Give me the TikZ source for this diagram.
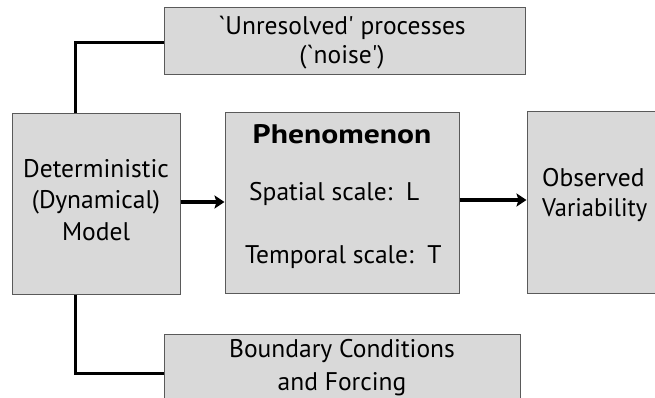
\documentclass[tikz,border=0pt]{standalone}
\usepackage{fontspec}
\setmainfont{PT Sans}
\usetikzlibrary{arrows.meta}
\definecolor{boxfill}{HTML}{D9D9D9}
\definecolor{boxline}{HTML}{5A5A5A}
\begin{document}
\begin{tikzpicture}[x=1pt,y=-1pt,
  box/.style={draw=boxline,line width=1pt,fill=boxfill,inner sep=0pt},
  conn/.style={line width=3pt,black},
  arr/.style={line width=3.2pt,black,-{Stealth[length=10pt,width=13pt,inset=2pt]}},
  txt/.style={font=\fontsize{25.5}{31.5}\selectfont,inner sep=0pt,text=black}]
\useasboundingbox (0,0) rectangle (655,398);
\begin{scope}
\clip (0,0) rectangle (655,398);
% boxes
\node[box,minimum width=361pt,minimum height=67pt] (noise) at (344.5,41.5) {};
\node[box,minimum width=168pt,minimum height=180pt] (model) at (96,204) {};
\node[box,minimum width=234pt,minimum height=180pt] (phen) at (342,203) {};
\node[box,minimum width=140pt,minimum height=181pt] (obs) at (597,202.5) {};
\node[box,minimum width=356pt,minimum height=80pt] (bc) at (342,374) {};
% texts
\node[txt,anchor=base] (t1) at (342,35) {\textasciigrave Unresolved\textquotesingle\ processes};
\node[txt,anchor=base] (t2) at (342,64) {(\textasciigrave noise\textquotesingle)};
\node[txt,anchor=base] (m1) at (96,177) {Deterministic};
\node[txt,anchor=base] (m2) at (96,208.5) {(Dynamical)};
\node[txt,anchor=base] (m3) at (96,240) {Model};
\node[txt,anchor=base,font=\fontsize{25.5}{31}\selectfont\bfseries] (p1) at (342,144) {\scalebox{1.24}[1.05]{Phenomenon}};
\node[txt,anchor=base west] (p2) at (249,200) {Spatial scale:\ \ L};
\node[txt,anchor=base west] (p3) at (245,263) {Temporal scale:\ \ T};
\node[txt,anchor=base west] (o1) at (542,186) {Observed};
\node[txt,anchor=base west] (o2) at (542,216) {\scalebox{0.96}[1]{Variability}};
\node[txt,anchor=base] (b1) at (342,357) {Boundary Conditions};
\node[txt,anchor=base] (b2) at (342,390) {and Forcing};
% connectors
\draw[conn] (model.north -| 75,0) |- (noise.west |- 0,43);
\draw[conn] (model.south -| 75,0) |- (bc.west |- 0,373);
\draw[arr] (model.east |- 0,202) -- (phen.west |- 0,202);
\draw[arr] (phen.east |- 0,200) -- (obs.west |- 0,200);
\end{scope}
\end{tikzpicture}
\end{document}
